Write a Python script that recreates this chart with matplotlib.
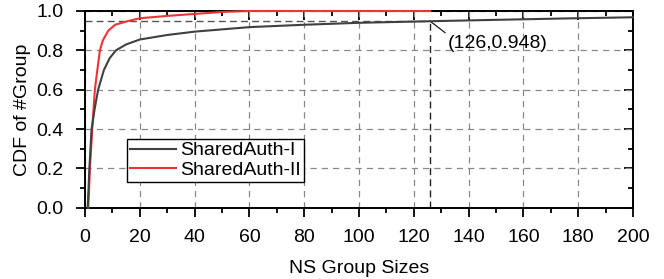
import matplotlib
matplotlib.use("Agg")
import matplotlib.pyplot as plt
from matplotlib.ticker import MultipleLocator

plt.rcParams["font.family"] = ["Liberation Sans", "DejaVu Sans"]

# SharedAuth-I
x_one = [1, 1.6, 2.4, 3.5, 4.8, 6.9, 9, 11.3, 15, 20, 30, 40, 60, 80, 100,
         126, 150, 175, 200]
y_one = [0, 0.2, 0.4, 0.5, 0.6, 0.7, 0.76, 0.8, 0.83, 0.855, 0.878, 0.895,
         0.918, 0.93, 0.94, 0.948, 0.955, 0.962, 0.968]

# SharedAuth-II
x_two = [1.2, 1.8, 2.65, 3.6, 4.5, 5.45, 6.5, 8.5, 11, 16, 20, 30, 40, 50,
         60, 126]
y_two = [0, 0.2, 0.4, 0.6, 0.7, 0.8, 0.85, 0.9, 0.93, 0.95, 0.963, 0.975,
         0.985, 0.995, 1.0, 1.0]

mark_x, mark_y = 126, 0.948
labels = ["SharedAuth-I", "SharedAuth-II"]

FS = 14
XLIM, YLIM = (0, 200), (0, 1.0)

fig = plt.figure(figsize=(6.64, 2.79), dpi=100)
ax = fig.add_axes([0.128, 0.2556, 0.8253, 0.705])

# mirrored ticks pointing inward on top and right (twins, no spines)
axt = ax.twiny()
axt.set_xlim(*XLIM)
axt.xaxis.set_major_locator(MultipleLocator(20))
axt.xaxis.set_minor_locator(MultipleLocator(10))
axt.tick_params(axis="x", which="both", direction="in", width=1.3,
                top=True, labeltop=False, bottom=False)
axt.tick_params(axis="x", which="major", length=6.5)
axt.tick_params(axis="x", which="minor", length=3.6)

axr = ax.twinx()
axr.set_ylim(*YLIM)
axr.yaxis.set_major_locator(MultipleLocator(0.2))
axr.yaxis.set_minor_locator(MultipleLocator(0.1))
axr.tick_params(axis="y", which="both", direction="in", width=1.3,
                right=True, labelright=False, left=False)
axr.tick_params(axis="y", which="major", length=6.5)
axr.tick_params(axis="y", which="minor", length=3.6)
for a in (axt, axr):
    for s in a.spines.values():
        s.set_visible(False)
    a.set_zorder(0)
ax.set_zorder(1)
ax.patch.set_visible(False)

ax.plot(x_one, y_one, color="#404040", lw=1.5, label=labels[0], zorder=4,
        clip_on=False)
ax.plot(x_two, y_two, color="#ee3333", lw=1.5, label=labels[1], zorder=3,
        clip_on=False)

# reference lines for the marked point
ax.plot([0, mark_x], [mark_y, mark_y], ls=(0, (5, 3)), color="#555555", lw=1.0)
ax.plot([mark_x, mark_x], [0, mark_y], ls=(0, (5, 3)), color="#222222", lw=1.0)
ax.annotate(f"({mark_x},{mark_y})", xy=(mark_x, mark_y), xytext=(132.5, 0.835),
            fontsize=FS, va="center", ha="left",
            arrowprops=dict(arrowstyle="-", color="black", lw=0.8,
                            shrinkA=0, shrinkB=0, relpos=(0, 1)))

ax.set_xlim(*XLIM)
ax.set_ylim(*YLIM)
ax.xaxis.set_major_locator(MultipleLocator(20))
ax.xaxis.set_minor_locator(MultipleLocator(10))
ax.yaxis.set_major_locator(MultipleLocator(0.2))
ax.yaxis.set_minor_locator(MultipleLocator(0.1))
ax.yaxis.set_major_formatter(plt.FuncFormatter(lambda v, p: f"{v:.1f}"))
ax.tick_params(which="both", direction="out", labelsize=FS, width=1.3, pad=9)
ax.tick_params(which="major", length=6.5)
ax.tick_params(which="minor", length=3.6)
for s in ax.spines.values():
    s.set_linewidth(1.4)

ax.grid(True, which="major", ls=(0, (5, 4)), color="#888888", lw=0.9)
ax.set_axisbelow(True)

ax.set_xlabel("NS Group Sizes", fontsize=FS, labelpad=10)
ax.set_ylabel("CDF of #Group", fontsize=FS, labelpad=4)

leg = ax.legend(loc="lower left", bbox_to_anchor=(0.0766, 0.131),
                borderaxespad=0, fontsize=FS, fancybox=False, framealpha=1,
                edgecolor="black", handlelength=2.35, borderpad=0.15,
                labelspacing=0.1, handletextpad=0.25)
leg.get_frame().set_linewidth(1.0)
leg.set_zorder(10)

fig.savefig("out.png", dpi=100)
